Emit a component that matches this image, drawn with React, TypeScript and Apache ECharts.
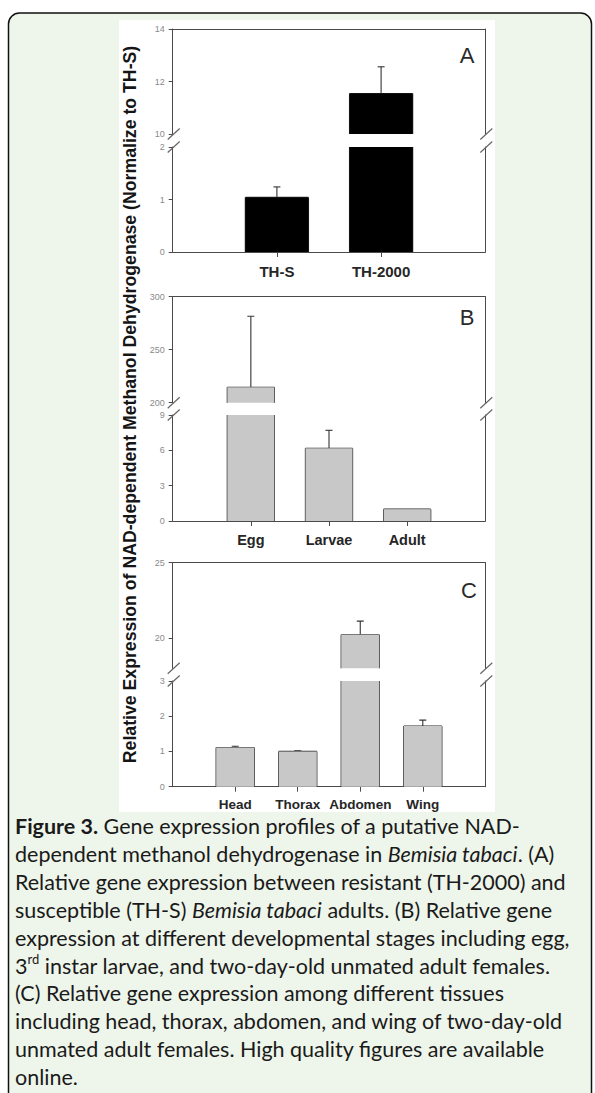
import React, { useEffect, useRef } from 'react';
import * as echarts from 'echarts';

// ---------- data ----------
const catA = ['TH-S', 'TH-2000'];
const valA = [1.04, 11.54];
const errTopA = [1.24, 12.56];
const ticksAUpper = [10, 12, 14];
const ticksALower = [0, 1, 2];

const catB = ['Egg', 'Larvae', 'Adult'];
const valB = [214.5, 6.17, 1.0];
const errTopB = [281.5, 7.7, 1.0];
const ticksBUpper = [200, 250, 300];
const ticksBLower = [0, 3, 6, 9];

const catC = ['Head', 'Thorax', 'Abdomen', 'Wing'];
const valC = [1.11, 1.0, 20.22, 1.72];
const errTopC = [1.15, 1.02, 21.13, 1.89];
const ticksCUpper = [20, 25];
const ticksCLower = [0, 1, 2, 3];

const yTitle = 'Relative Expression of NAD-dependent Methanol Dehydrogenase (Normalize to TH-S)';

const captionLines = [
  '{b|Figure 3.}{r| Gene expression profiles of a putative NAD-}',
  '{r|dependent methanol dehydrogenase in }{i|Bemisia tabaci}{r|. (A)}',
  '{r|Relative gene expression between resistant (TH-2000) and}',
  '{r|susceptible (TH-S) }{i|Bemisia tabaci}{r| adults. (B) Relative gene}',
  '{r|expression at different developmental stages including egg,}',
  '{r|3}{s|rd}{r| instar larvae, and two-day-old unmated adult females.}',
  '{r|(C) Relative gene expression among different tissues}',
  '{r|including head, thorax, abdomen, and wing of two-day-old}',
  '{r|unmated adult females. High quality figures are available}',
  '{r|online.}',
];

// ---------- layout ----------
const W = 595;
const H = 1093;
const PLOT_LEFT = 172.7;
const PLOT_W = 312.6;
const AXIS = '#4a4a4a';
const FONT = "'Liberation Sans', Arial, sans-serif";
const CAP_FONT = "Lato, 'Open Sans', sans-serif";

const panels = [
  {
    cats: catA, vals: valA, errs: errTopA, letter: 'A', letterPos: [467, 55],
    upper: { top: 29, bottom: 134, min: 10, max: 14, ticks: ticksAUpper },
    lower: { top: 147, bottom: 252, min: 0, max: 2, ticks: ticksALower },
    barWidth: 63, color: '#000000', labelSize: 15, labelMargin: 12,
  },
  {
    cats: catB, vals: valB, errs: errTopB, letter: 'B', letterPos: [467, 317],
    upper: { top: 296.7, bottom: 402.7, min: 200, max: 300, ticks: ticksBUpper },
    lower: { top: 415, bottom: 521, min: 0, max: 9, ticks: ticksBLower },
    barWidth: 47, color: '#c8c8c8', labelSize: 14.5, labelMargin: 11,
  },
  {
    cats: catC, vals: valC, errs: errTopC, letter: 'C', letterPos: [469, 590],
    upper: { top: 562.7, bottom: 668.3, min: 18, max: 25, ticks: ticksCUpper },
    lower: { top: 681, bottom: 786.7, min: 0, max: 3, ticks: ticksCLower },
    barWidth: 38, color: '#c8c8c8', labelSize: 13.5, labelMargin: 11,
  },
];

export default function App() {
  const ref = useRef<HTMLDivElement>(null);

  useEffect(() => {
    document.body.style.margin = '0';
    const chart = echarts.init(ref.current as HTMLDivElement, null, { renderer: 'svg', width: W, height: H });

    const grid: any[] = [];
    const xAxis: any[] = [];
    const yAxis: any[] = [];
    const series: any[] = [];
    const graphic: any[] = [];

    // backgrounds
    graphic.push({
      type: 'rect', z: -20, silent: true,
      shape: { x: 8.5, y: 13, width: 583, height: 1100, r: 11 },
      style: { fill: '#eef5ea', stroke: '#111', lineWidth: 1.5 },
    });
    graphic.push({
      type: 'rect', z: -19, silent: true,
      shape: { x: 119, y: 20, width: 376, height: 792 },
      style: { fill: '#ffffff' },
    });

    panels.forEach((p) => {
      const n = p.cats.length;
      const positions = p.cats.map((_, i) => i + 1);
      (['upper', 'lower'] as const).forEach((segName) => {
        const seg = p[segName];
        const isLower = segName === 'lower';
        const gi = grid.length;
        grid.push({
          left: PLOT_LEFT, top: seg.top, width: PLOT_W, height: seg.bottom - seg.top,
          containLabel: false, outerBoundsMode: 'none',
        });
        xAxis.push({
          type: 'value', gridIndex: gi, min: 0, max: n + 1,
          position: isLower ? 'bottom' : 'top',
          splitLine: { show: false },
          axisLine: { show: true, onZero: false, lineStyle: { color: AXIS, width: 1 } },
          axisTick: { show: isLower, inside: false, length: 5, customValues: positions, lineStyle: { color: AXIS } },
          axisLabel: {
            show: isLower, customValues: positions,
            formatter: (v: number) => p.cats[Math.round(v) - 1] ?? '',
            margin: p.labelMargin, fontSize: p.labelSize, fontWeight: 'bold', fontFamily: FONT, color: '#262626',
          },
        });
        const yl = yAxis.length;
        yAxis.push({
          type: 'value', gridIndex: gi, min: seg.min, max: seg.max, position: 'left',
          splitLine: { show: false },
          axisLine: { show: true, onZero: false, lineStyle: { color: AXIS, width: 1 } },
          axisTick: { show: true, length: 4, customValues: seg.ticks, lineStyle: { color: AXIS } },
          axisLabel: { customValues: seg.ticks, fontSize: 9, color: '#8a8a8a', margin: 8, fontFamily: FONT },
        });
        yAxis.push({
          type: 'value', gridIndex: gi, min: seg.min, max: seg.max, position: 'right',
          splitLine: { show: false },
          axisLine: { show: true, onZero: false, lineStyle: { color: AXIS, width: 1 } },
          axisTick: { show: false },
          axisLabel: { show: false },
        });
        // bar fills
        series.push({
          type: 'bar', xAxisIndex: gi, yAxisIndex: yl, barWidth: p.barWidth, clip: true, silent: true,
          data: p.vals.map((v, i) => [i + 1, v]),
          itemStyle: { color: p.color, borderWidth: 0 },
        });
        // bar outlines (sides + top, open at axis breaks)
        const half = p.barWidth / 2;
        series.push({
          type: 'custom', xAxisIndex: gi, yAxisIndex: yl, clip: false, silent: true,
          data: p.vals.map((v, i) => [i + 1, v]),
          renderItem: (params: any, api: any) => {
            const cs = params.coordSys;
            const x = api.value(0);
            const v = api.value(1);
            const top = api.coord([x, v]);
            const base = api.coord([x, 0]);
            const yTop = Math.max(top[1], cs.y);
            const yBot = Math.min(base[1], cs.y + cs.height);
            if (yTop >= yBot) return null;
            const xl = top[0] - half;
            const xr = top[0] + half;
            const st = { stroke: '#262626', lineWidth: 1.3 };
            const children: any[] = [
              { type: 'line', shape: { x1: xl, y1: yBot, x2: xl, y2: yTop }, style: st },
              { type: 'line', shape: { x1: xr, y1: yBot, x2: xr, y2: yTop }, style: st },
            ];
            if (top[1] >= cs.y) {
              children.push({ type: 'line', shape: { x1: xl, y1: yTop, x2: xr, y2: yTop }, style: st });
            }
            return { type: 'group', children };
          },
        });
        // error bars (upper half only)
        const segMin = seg.min;
        series.push({
          type: 'custom', xAxisIndex: gi, yAxisIndex: yl, clip: true, silent: true,
          data: p.vals.map((v, i) => [i + 1, v, p.errs[i]]),
          renderItem: (_params: any, api: any) => {
            const x = api.value(0);
            const v = api.value(1);
            const e = api.value(2);
            if (e <= v || v < segMin) return null;
            const p0 = api.coord([x, v]);
            const p1 = api.coord([x, e]);
            const st = { stroke: '#333', lineWidth: 1.1 };
            return {
              type: 'group',
              children: [
                { type: 'line', shape: { x1: p0[0], y1: p0[1], x2: p1[0], y2: p1[1] }, style: st },
                { type: 'line', shape: { x1: p1[0] - 3.5, y1: p1[1], x2: p1[0] + 3.5, y2: p1[1] }, style: st },
              ],
            };
          },
        });
      });

      // axis break slashes (left and right)
      [PLOT_LEFT, PLOT_LEFT + PLOT_W].forEach((ax) => {
        [p.upper.bottom, p.lower.top].forEach((yy) => {
          graphic.push({
            type: 'line', z: 10, silent: true,
            shape: { x1: ax - 5, y1: yy + 5.5, x2: ax + 7, y2: yy - 5.5 },
            style: { stroke: '#666', lineWidth: 1.2 },
          });
        });
      });

      graphic.push({
        type: 'text', z: 10, silent: true, x: p.letterPos[0], y: p.letterPos[1],
        style: {
          text: p.letter, fontSize: 22, fontFamily: FONT, fill: '#2a2a2a',
          align: 'center', verticalAlign: 'middle', textAlign: 'center', textVerticalAlign: 'middle',
        },
      });
    });

    // y axis title
    graphic.push({
      type: 'text', z: 10, silent: true, x: 130, y: 404.5, rotation: Math.PI / 2,
      style: {
        text: yTitle, fontSize: 17.7, fontWeight: 'bold', fontFamily: FONT, fill: '#151515',
        align: 'center', verticalAlign: 'middle', textAlign: 'center', textVerticalAlign: 'middle',
      },
    });

    // caption
    const capSize = 21.5;
    const base = { fontSize: capSize, fontFamily: CAP_FONT, fill: '#1a1a1a', lineHeight: 26 };
    captionLines.forEach((line, i) => {
      graphic.push({
        type: 'text', z: 10, silent: true, x: 15, y: 826 + i * 27.9,
        style: {
          text: line,
          align: 'left', verticalAlign: 'middle', textAlign: 'left', textVerticalAlign: 'middle',
          ...base,
          rich: {
            r: { ...base },
            b: { ...base, fontWeight: 'bold' },
            i: { ...base, fontStyle: 'italic' },
            s: { ...base, fontSize: 13, verticalAlign: 'top', lineHeight: 26 },
          },
        },
      });
    });

    chart.setOption({
      animation: false,
      backgroundColor: '#ffffff',
      grid,
      xAxis,
      yAxis,
      series,
      graphic,
    });

    return () => {
      chart.dispose();
    };
  }, []);

  return <div ref={ref} style={{ position: 'absolute', left: 0, top: 0, width: W, height: H }} />;
}
